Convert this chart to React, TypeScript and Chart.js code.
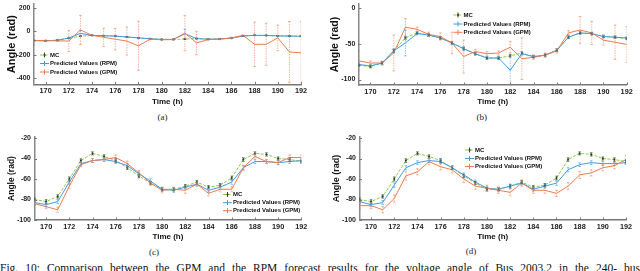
import React, { useEffect, useRef } from "react";
import { Chart, registerables } from "chart.js";
Chart.register(...registerables);

const FONT = "'Liberation Sans', Arial, Helvetica, sans-serif";
const SERIF = "'Liberation Serif', 'Times New Roman', serif";

const MC_COLOR = "#8cc84b";
const MC_MARK = "#2b4a1a";
const RPM_COLOR = "#3f9be6";
const GPM_COLOR = "#f07a4f";

// ---- data ----
const HOURS = [169, 170, 171, 172, 173, 174, 175, 176, 177, 178, 179, 180, 181, 182, 183, 184, 185, 186, 187, 188, 189, 190, 191, 192];
const X_TICKS = [170, 172, 174, 176, 178, 180, 182, 184, 186, 188, 190, 192];

const MC = [-80, -82, -77, -60, -42, -35, -38, -42, -49, -57, -64, -70, -70, -67, -63, -68, -66, -59, -41, -35, -36, -40, -41, -43];
const MC_ERR = [1.5, 1.8, 1.6, 2, 1.7, 1.5, 1.6, 1.8, 1.6, 1.7, 1.5, 1.6, 1.5, 1.7, 1.6, 1.5, 1.6, 1.8, 1.7, 1.5, 1.6, 1.5, 1.6, 1.5];

// (a)
const A_Y_TICKS = [200, 0, -200, -400];
const A_RPM = [-80, -82, -77, -58, -18, -36, -38, -42, -49, -57, -64, -70, -70, -22, -63, -68, -66, -59, -41, -35, -36, -40, -41, -43];
const A_RPM_ERR = [4, 3, 3, 6, 25, 4, 3, 3, 4, 4, 3, 3, 3, 40, 5, 3, 3, 3, 3, 3, 3, 3, 3, 3];
const A_GPM = [-79, -80, -82, -84, 11, -35, -52, -68, -84, -125, -68, -73, -71, -16, -100, -71, -68, -57, -35, -112, -112, -57, -177, -185];
const A_GPM_ERR = [40, 6, 5, 90, 125, 6, 78, 92, 120, 210, 6, 5, 5, 150, 100, 6, 5, 6, 5, 190, 180, 110, 260, 270];

// (b)
const B_Y_TICKS = [0, -50, -100];
const B_RPM = [-79, -81, -77, -60, -49, -36, -38, -42, -49, -57, -64, -70, -70, -87, -64, -68, -66, -59, -41, -35, -36, -40, -41, -42];
const B_RPM_ERR = [2, 2, 2, 3, 18, 2, 2, 2, 2, 3, 2, 2, 2, 21, 2, 2, 2, 2, 2, 2, 2, 2, 2, 2];
const B_GPM = [-74, -77, -77, -63, -27, -30, -37, -40, -49, -68, -61, -64, -63, -55, -71, -69, -66, -60, -35, -31, -35, -45, -48, -51];
const B_GPM_ERR = [14, 3, 3, 25, 12, 3, 3, 5, 15, 23, 3, 3, 3, 8, 29, 3, 3, 3, 3, 19, 16, 7, 24, 25];

// (c)
const CD_Y_TICKS = [-20, -40, -60, -80, -100];
const C_RPM = [-83, -85, -82, -63, -45, -42, -41, -43, -47, -55, -62, -70, -71, -68, -65, -71, -68, -63, -49, -43, -43, -44, -43, -42];
const C_RPM_ERR = [1.8, 2, 2, 2.2, 2, 1.8, 1.8, 1.8, 2, 2, 2.2, 2, 2, 1.8, 1.8, 2, 2, 2.2, 2, 1.8, 1.8, 2, 1.8, 1.8];
const C_GPM = [-84, -87, -90, -67, -46, -42, -41, -39, -45, -54, -64, -71, -70, -71, -65, -74, -70, -70, -49, -38, -43, -44, -39, -39];
const C_GPM_ERR = [2, 2, 2.5, 2.5, 2, 2, 2, 2.5, 2.5, 2.5, 2, 2.5, 2, 3, 2, 2.5, 2.5, 2.5, 2.5, 2.5, 2, 2, 2.5, 2.5];

// (d)
const D_RPM = [-82, -85, -83, -66, -49, -44, -42, -43, -49, -56, -63, -69, -70, -67, -64, -70, -67, -64, -51, -46, -44, -45, -45, -44];
const D_RPM_ERR = [2, 2, 2, 2.2, 2, 1.8, 1.8, 2, 2, 2, 2, 2, 2, 2, 1.8, 2, 2, 2.2, 2, 1.8, 1.8, 2, 1.8, 1.8];
const D_GPM = [-86, -86, -90, -79, -57, -53, -43, -48, -51, -60, -67, -69, -71, -73, -64, -71, -71, -74, -67, -56, -54, -49, -47, -41];
const D_GPM_ERR = [3, 3, 3, 3.5, 4, 3, 3, 3, 3, 3.5, 3, 3, 3, 3.5, 3, 3, 3, 3, 3.5, 3.5, 3, 3, 3, 4];

const LEGEND_LABELS = ["MC", "Predicted Values (RPM)", "Predicted Values (GPM)"];

type Series = { values: number[]; err: number[]; color: string; errColor: string; errDash: number[]; dash: number[]; mark: boolean };
type PanelCfg = {
  left: number; top: number; w: number; h: number;
  area: { l: number; t: number; r: number; b: number };
  yMin: number; yMax: number; yTicks: number[];
  rpm: number[]; rpmErr: number[]; gpm: number[]; gpmErr: number[];
  yTitleSize: number; yTitlePad: number;
  legend: { x: number; y: number[] };
};

const PANELS: PanelCfg[] = [
  {
    left: 0, top: 0, w: 320, h: 110, area: { l: 34, t: 0, r: 301, b: 84.3 },
    yMin: -454, yMax: 233, yTicks: A_Y_TICKS, rpm: A_RPM, rpmErr: A_RPM_ERR, gpm: A_GPM, gpmErr: A_GPM_ERR,
    yTitleSize: 11, yTitlePad: 5.4, legend: { x: 40, y: [55, 63.5, 72] },
  },
  {
    left: 320, top: 0, w: 320, h: 110, area: { l: 38.8, t: 0, r: 306.7, b: 85 },
    yMin: -107.6, yMax: 5.3, yTicks: B_Y_TICKS, rpm: B_RPM, rpmErr: B_RPM_ERR, gpm: B_GPM, gpmErr: B_GPM_ERR,
    yTitleSize: 10.5, yTitlePad: 8.7, legend: { x: 133.5, y: [15, 24, 32.3] },
  },
  {
    left: 0, top: 125, w: 320, h: 120, area: { l: 34.5, t: 12, r: 301.3, b: 95 },
    yMin: -100, yMax: -19, yTicks: CD_Y_TICKS, rpm: C_RPM, rpmErr: C_RPM_ERR, gpm: C_GPM, gpmErr: C_GPM_ERR,
    yTitleSize: 8.5, yTitlePad: 6.9, legend: { x: 223, y: [69.5, 77.7, 85.7] },
  },
  {
    left: 320, top: 125, w: 320, h: 120, area: { l: 39.5, t: 12, r: 306, b: 95 },
    yMin: -100, yMax: -19, yTicks: CD_Y_TICKS, rpm: D_RPM, rpmErr: D_RPM_ERR, gpm: D_GPM, gpmErr: D_GPM_ERR,
    yTitleSize: 9, yTitlePad: 11.6, legend: { x: 145, y: [25, 33.5, 41.5] },
  },
];

function makeChart(canvas: HTMLCanvasElement, p: PanelCfg) {
  const series: Series[] = [
    { values: MC, err: MC_ERR, color: MC_COLOR, errColor: "rgba(40,60,30,0.8)", errDash: [], dash: [3, 1.5], mark: true },
    { values: p.rpm, err: p.rpmErr, color: RPM_COLOR, errColor: "rgba(63,155,230,0.75)", errDash: [1.5, 1], dash: [], mark: false },
    { values: p.gpm, err: p.gpmErr, color: GPM_COLOR, errColor: "rgba(240,122,79,0.7)", errDash: [1.5, 1], dash: [], mark: false },
  ];

  const errPlugin = {
    id: "errbars",
    afterDatasetsDraw(chart: any) {
      const { ctx, chartArea, scales } = chart;
      const x = scales.x, y = scales.y;
      ctx.save();
      ctx.beginPath();
      ctx.rect(chartArea.left, chartArea.top, chartArea.right - chartArea.left, chartArea.bottom - chartArea.top);
      ctx.clip();
      series.forEach((s) => {
        ctx.strokeStyle = s.errColor;
        ctx.lineWidth = 0.8;
        HOURS.forEach((h, i) => {
          const px = x.getPixelForValue(h);
          const y1 = y.getPixelForValue(s.values[i] + s.err[i]);
          const y2 = y.getPixelForValue(s.values[i] - s.err[i]);
          ctx.setLineDash(s.errDash);
          ctx.beginPath();
          ctx.moveTo(px, y1);
          ctx.lineTo(px, y2);
          ctx.stroke();
          ctx.setLineDash([]);
          ctx.beginPath();
          ctx.moveTo(px - 1.3, y1);
          ctx.lineTo(px + 1.3, y1);
          ctx.moveTo(px - 1.3, y2);
          ctx.lineTo(px + 1.3, y2);
          ctx.stroke();
        });
      });
      ctx.restore();
    },
  };

  const tickPlugin = {
    id: "innerTicks",
    afterDraw(chart: any) {
      const { ctx, chartArea, scales } = chart;
      ctx.save();
      ctx.strokeStyle = "#777";
      ctx.lineWidth = 1;
      scales.x.ticks.forEach((t: any) => {
        const px = Math.round(scales.x.getPixelForValue(t.value)) + 0.5;
        ctx.beginPath();
        ctx.moveTo(px, chartArea.bottom);
        ctx.lineTo(px, chartArea.bottom - 2.5);
        ctx.stroke();
      });
      scales.y.ticks.forEach((t: any) => {
        const py = Math.round(scales.y.getPixelForValue(t.value)) + 0.5;
        ctx.beginPath();
        ctx.moveTo(chartArea.left, py);
        ctx.lineTo(chartArea.left + 2.5, py);
        ctx.stroke();
      });
      ctx.restore();
    },
  };

  const legendPlugin = {
    id: "innerLegend",
    afterDraw(chart: any) {
      const ctx = chart.ctx;
      ctx.save();
      ctx.font = `bold 6px ${FONT}`;
      ctx.textBaseline = "middle";
      ctx.textAlign = "left";
      series.forEach((s, i) => {
        const y = p.legend.y[i];
        const x0 = p.legend.x;
        const x1 = x0 + 9;
        const cx = (x0 + x1) / 2;
        ctx.strokeStyle = s.color;
        ctx.lineWidth = 1;
        ctx.setLineDash(s.dash);
        ctx.beginPath();
        ctx.moveTo(x0, y);
        ctx.lineTo(x1, y);
        ctx.stroke();
        ctx.setLineDash([]);
        ctx.strokeStyle = s.mark ? MC_MARK : s.color;
        ctx.beginPath();
        ctx.moveTo(cx, y - 2.5);
        ctx.lineTo(cx, y + 2.5);
        ctx.stroke();
        if (s.mark) {
          ctx.fillStyle = MC_MARK;
          ctx.beginPath();
          ctx.arc(cx, y, 1.1, 0, Math.PI * 2);
          ctx.fill();
        }
        ctx.fillStyle = "#111";
        ctx.fillText(LEGEND_LABELS[i], x1 + 1, y);
      });
      ctx.restore();
    },
  };

  const toPts = (arr: number[]) => HOURS.map((h, i) => ({ x: h, y: arr[i] }));

  return new Chart(canvas, {
    type: "line",
    data: {
      datasets: [
        {
          label: LEGEND_LABELS[2], data: toPts(p.gpm), borderColor: GPM_COLOR, borderWidth: 1,
          pointRadius: 0, tension: 0, fill: false,
        },
        {
          label: LEGEND_LABELS[1], data: toPts(p.rpm), borderColor: RPM_COLOR, borderWidth: 1,
          pointRadius: 0, tension: 0, fill: false,
        },
        {
          label: LEGEND_LABELS[0], data: toPts(MC), borderColor: MC_COLOR, borderWidth: 1, borderDash: [3, 1.5],
          pointRadius: 1, pointBackgroundColor: MC_MARK, pointBorderColor: MC_MARK, pointBorderWidth: 0,
          tension: 0, fill: false,
        },
      ],
    },
    options: {
      animation: false,
      responsive: false,
      events: [],
      layout: { padding: { left: 0, top: p.area.t, right: p.w - p.area.r, bottom: 0 } },
      plugins: { legend: { display: false }, tooltip: { enabled: false }, title: { display: false } },
      scales: {
        x: {
          type: "linear",
          min: 169,
          max: 192,
          afterBuildTicks: (s: any) => { s.ticks = X_TICKS.map((v) => ({ value: v })); },
          afterFit: (s: any) => { s.height = p.h - p.area.b; s.paddingLeft = 0; s.paddingRight = 0; },
          grid: { display: false, drawTicks: false },
          border: { display: true, color: "#777", width: 1.5 },
          ticks: { font: { family: FONT, size: 7.3, weight: "bold" }, color: "#222", padding: 2.5, maxRotation: 0, autoSkip: false },
          title: { display: true, text: "Time (h)", color: "#111", font: { family: FONT, size: 8, weight: "bold" }, padding: { top: 0, bottom: 3.5 } },
        },
        y: {
          type: "linear",
          min: p.yMin,
          max: p.yMax,
          afterBuildTicks: (s: any) => { s.ticks = p.yTicks.map((v) => ({ value: v })); },
          afterFit: (s: any) => { s.width = p.area.l; s.paddingTop = 0; s.paddingBottom = 0; },
          grid: { display: false, drawTicks: false },
          border: { display: true, color: "#888", width: 1.5 },
          ticks: { font: { family: FONT, size: 7, weight: "bold" }, color: "#222", padding: 3.5, autoSkip: false },
          title: { display: true, text: "Angle (rad)", color: "#111", font: { family: FONT, size: p.yTitleSize, weight: "bold" }, padding: { top: p.yTitlePad, bottom: 0 } },
        },
      },
    } as any,
    plugins: [errPlugin, tickPlugin, legendPlugin],
  });
}

function Panel({ p }: { p: PanelCfg }) {
  const ref = useRef<HTMLCanvasElement>(null);
  useEffect(() => {
    const chart = makeChart(ref.current!, p);
    return () => chart.destroy();
  }, [p]);
  return (
    <canvas
      ref={ref}
      width={p.w}
      height={p.h}
      style={{ position: "absolute", left: p.left, top: p.top, width: p.w, height: p.h }}
    />
  );
}

const SUB_CAPTIONS = [
  { text: "(a)", x: 162.5, y: 117 },
  { text: "(b)", x: 481.7, y: 117 },
  { text: "(c)", x: 154, y: 252 },
  { text: "(d)", x: 471, y: 251 },
];

const FIG_CAPTION = "Fig. 10: Comparison between the GPM and the RPM forecast results for the voltage angle of Bus 2003.2 in the 240- bus";

export default function App() {
  return (
    <div style={{ position: "fixed", left: 0, top: 0, width: 640, height: 271, overflow: "hidden", background: "#fff" }}>
      {PANELS.map((p, i) => (
        <Panel key={i} p={p} />
      ))}
      {SUB_CAPTIONS.map((c) => (
        <div
          key={c.text}
          style={{
            position: "absolute", left: c.x, top: c.y, transform: "translate(-50%, -50%)",
            fontFamily: SERIF, fontSize: 9, color: "#222", lineHeight: "10px", whiteSpace: "nowrap",
          }}
        >
          {c.text}
        </div>
      ))}
      <div
        style={{
          position: "absolute", left: 0, top: 262, width: 640, fontFamily: SERIF, fontSize: 11.5,
          lineHeight: "12px", color: "#111", textAlign: "justify", textAlignLast: "justify" as any, whiteSpace: "normal",
        }}
      >
        {FIG_CAPTION}
      </div>
    </div>
  );
}
